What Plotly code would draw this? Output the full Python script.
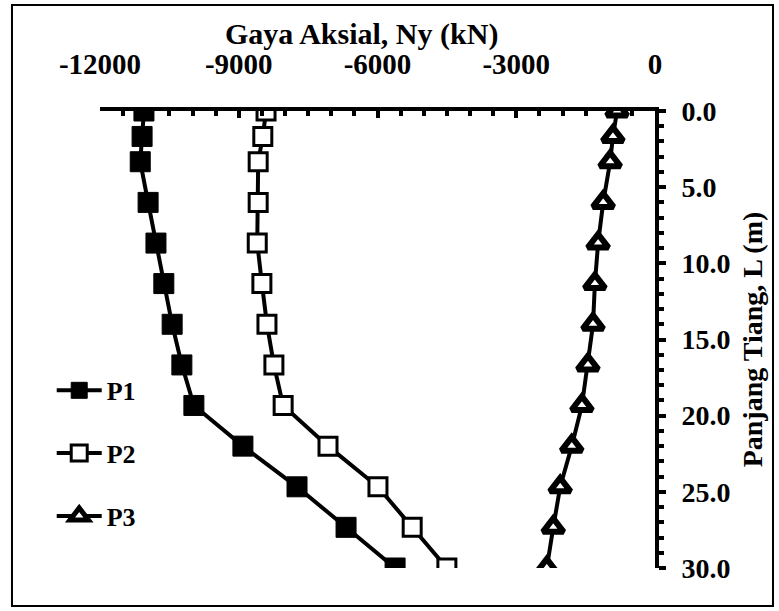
import plotly.graph_objects as go

# Pile length stations (m) along the pile, top = 0
panjang = [0.0, 1.67, 3.33, 6.0, 8.67, 11.33, 14.0, 16.67, 19.33, 22.0, 24.67, 27.33, 30.0]

# Axial force Ny (kN) per pile
p1 = [-11050, -11090, -11130, -10960, -10790, -10620, -10440, -10230, -9970, -8910, -7740, -6680, -5620]
p2 = [-8410, -8480, -8580, -8580, -8600, -8500, -8390, -8240, -8040, -7070, -5990, -5250, -4500]
p3 = [-820, -910, -970, -1120, -1230, -1300, -1340, -1450, -1580, -1800, -2050, -2200, -2340]

x_tickvals = [-12000, -9000, -6000, -3000, 0]
x_ticktext = ["-12000", "-9000", "-6000", "-3000", "0"]

FONT = "Liberation Serif, Times New Roman, serif"
BLACK = "#000000"

fig = go.Figure()

fig.add_trace(go.Scatter(
    x=p1, y=panjang, name="P1", mode="lines+markers", legendgroup="a",
    line=dict(color=BLACK, width=4),
    marker=dict(symbol="square", size=20, color=BLACK, line=dict(color=BLACK, width=1)),
))
fig.add_trace(go.Scatter(
    x=p2, y=panjang, name="P2", mode="lines+markers", legendgroup="b",
    line=dict(color=BLACK, width=4),
    marker=dict(symbol="square", size=18, color="white", line=dict(color=BLACK, width=3)),
))
fig.add_trace(go.Scatter(
    x=p3, y=panjang, name="P3", mode="lines+markers", legendgroup="c",
    line=dict(color=BLACK, width=4),
    marker=dict(symbol="triangle-up", size=18, color="white", line=dict(color=BLACK, width=6)),
))

fig.update_layout(
    width=779, height=611,
    margin=dict(l=100, r=124, t=111, b=43),
    paper_bgcolor="white", plot_bgcolor="white",
    font=dict(family=FONT, color=BLACK, size=28, weight="bold"),
    showlegend=True,
    legend=dict(
        x=-0.087, y=0.44, xanchor="left", yanchor="top",
        bgcolor="rgba(0,0,0,0)", tracegroupgap=26, itemwidth=45,
        font=dict(family=FONT, size=26, color=BLACK, weight="bold"),
    ),
    shapes=[dict(
        type="rect", xref="paper", yref="paper",
        x0=-0.1586, x1=1.2126, y0=-0.083, y1=1.232,
        line=dict(color=BLACK, width=2), fillcolor="rgba(0,0,0,0)", layer="below",
    )],
    annotations=[dict(
        text="Gaya Aksial, Ny (kN)", xref="paper", yref="paper",
        x=0.472, y=1.168, xanchor="center", yanchor="middle", showarrow=False,
        font=dict(family=FONT, size=30, color=BLACK, weight="bold"),
    )],
)

fig.update_xaxes(
    side="top", range=[-12000, 0],
    tickvals=x_tickvals, ticktext=x_ticktext,
    showgrid=False, zeroline=False,
    showline=True, linecolor=BLACK, linewidth=4,
    ticks="inside", ticklen=7, tickwidth=4, tickcolor=BLACK,
    minor=dict(dtick=500, ticks="inside", ticklen=5, tickwidth=4, tickcolor=BLACK),
    tickfont=dict(family=FONT, size=29, color=BLACK, weight="bold"),
    ticklabelstandoff=21,
)

fig.update_yaxes(
    side="right", range=[30, 0],
    dtick=5, tickformat=".1f",
    showgrid=False, zeroline=False,
    showline=True, linecolor=BLACK, linewidth=4,
    ticks="outside", ticklen=7, tickwidth=4, tickcolor=BLACK,
    minor=dict(dtick=1, ticks="outside", ticklen=5, tickwidth=4, tickcolor=BLACK),
    tickfont=dict(family=FONT, size=28, color=BLACK, weight="bold"),
    ticklabelstandoff=10,
    title=dict(text="Panjang Tiang, L (m)", standoff=14,
               font=dict(family=FONT, size=28, color=BLACK, weight="bold")),
)

fig.write_html("out.html")
